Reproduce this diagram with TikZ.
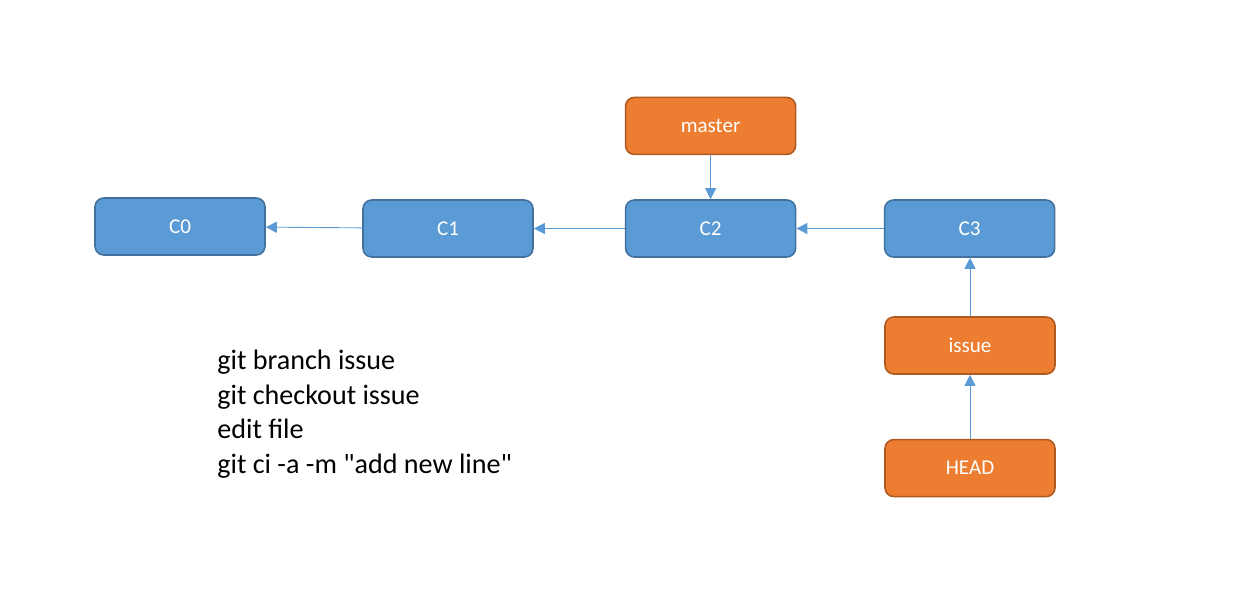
\documentclass[tikz,border=0pt]{standalone}
\usepackage{fontspec}
\setmainfont{Carlito}
\usetikzlibrary{arrows.meta,positioning}

\definecolor{commitfill}{HTML}{5B9BD5}
\definecolor{commitdraw}{HTML}{41719C}
\definecolor{reffill}{HTML}{ED7D31}
\definecolor{refdraw}{HTML}{AE5A21}

\begin{document}
\begin{tikzpicture}[
  commit/.style={draw=commitdraw, fill=commitfill, line width=0.9pt, rounded corners=5pt,
                 minimum width=3.4cm, minimum height=1.14cm, text=white, font=\fontsize{12}{14}\selectfont},
  ref/.style={commit, draw=refdraw, fill=reffill},
  arr/.style={-{Triangle[length=2.2mm, width=2.2mm]}, draw=commitfill, line width=0.5pt},
  node distance=1.82cm]
\useasboundingbox (0,0) rectangle (24.8,-11.78);
\node[commit] (c0) at (3.6,-4.53) {C0};
\node[commit] (c1) at (8.96,-4.57) {C1};
\node[commit, right=of c1] (c2) {C2};
\node[commit, right=1.75cm of c2] (c3) {C3};
\node[ref, above=0.88cm of c2] (master) {master};
\node[ref] (issue) at (19.4,-6.91) {issue};
\node[ref, below=1.28cm of issue] (head) {HEAD};
\draw[arr] (c1) -- (c0);
\draw[arr] (c2) -- (c1);
\draw[arr] (c3) -- (c2);
\draw[arr] (master) -- (c2);
\draw[arr] (issue.north) -- (issue.north |- c3.south);
\draw[arr] (head) -- (issue);
\node[anchor=north west, inner sep=0pt, align=left, font=\fontsize{16}{19.8}\selectfont] (cmds) at (4.34,-6.99)
  {git branch issue\\git checkout issue\\edit file\\git ci -a -m \textquotedbl add new line\textquotedbl};
\end{tikzpicture}
\end{document}
